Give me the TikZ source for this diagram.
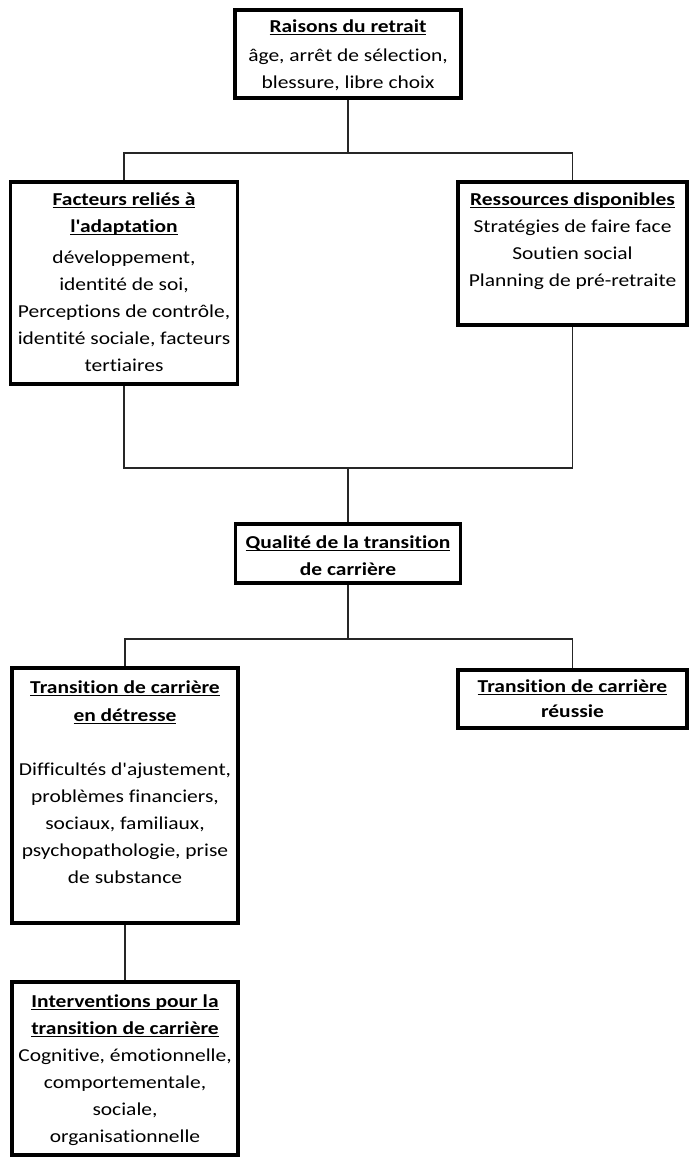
\documentclass[tikz,border=0pt]{standalone}
\usepackage{fontspec}
\setmainfont[Ligatures={TeXOff,NoCommon},FakeStretch=1.18]{Carlito}
\newsavebox{\myulbox}
\newcommand{\myul}[1]{\sbox{\myulbox}{#1}\rlap{\rule[-3.2pt]{\wd\myulbox}{1.4pt}}\usebox{\myulbox}}
\begin{document}
\begin{tikzpicture}[x=1pt,y=-1pt,
  box/.style={draw=black,line width=3.6pt,inner sep=0pt,rectangle},
  txt/.style={anchor=north,inner sep=0pt,align=center,
    font=\fontsize{18.2}{27}\selectfont,text=black},
  conn/.style={draw=black!85,line width=1.6pt}]
\useasboundingbox (0,0) rectangle (691,1158);
% boxes
\node[box,minimum width=226pt,minimum height=88pt] (raisons) at (348,54) {};
\node[box,minimum width=227pt,minimum height=202pt] (facteurs) at (124,283) {};
\node[box,minimum width=229pt,minimum height=143pt] (ressources) at (572.5,253.5) {};
\node[box,minimum width=225pt,minimum height=59pt] (qualite) at (348,553.5) {};
\node[box,minimum width=226pt,minimum height=255pt] (detresse) at (125,795.5) {};
\node[box,minimum width=229pt,minimum height=58pt] (reussie) at (572.5,699) {};
\node[box,minimum width=226pt,minimum height=173pt] (interventions) at (125,1068.5) {};
% texts
\node[txt] (t1) at ([yshift=-11pt]raisons.north) {\textbf{\myul{Raisons du retrait}}\\[2pt]âge, arrêt de sélection,\\blessure, libre choix};
\node[txt] (t2) at ([yshift=-12pt]facteurs.north) {\textbf{\myul{Facteurs reliés à}}\\\textbf{\myul{l'adaptation}}\\[4pt]développement,\\identité de soi,\\Perceptions de contrôle,\\identité sociale, facteurs\\tertiaires};
\node[txt] (t3) at ([yshift=-12pt]ressources.north) {\textbf{\myul{Ressources disponibles}}\\Stratégies de faire face\\Soutien social\\Planning de pré-retraite};
\node[txt] (t4) at ([yshift=-13pt]qualite.north) {\textbf{\myul{Qualité de la transition}}\\\textbf{de carrière}};
\node[txt] (t5) at ([yshift=-14pt]detresse.north) {\textbf{\myul{Transition de carrière}}\\[1pt]\textbf{\myul{en détresse}}\\[27pt]Difficultés d'ajustement,\\problèmes financiers,\\sociaux, familiaux,\\psychopathologie, prise\\de substance};
\node[txt] (t6) at ([yshift=-11pt]reussie.north) {\textbf{\myul{Transition de carrière}}\\[-2pt]\textbf{réussie}};
\node[txt] (t7) at ([yshift=-14pt]interventions.north) {\textbf{\myul{Interventions pour la}}\\\textbf{\myul{transition de carrière}}\\Cognitive, émotionnelle,\\comportementale,\\sociale,\\organisationnelle};
% junctions
\coordinate (j1) at (348,153);
\coordinate (j2) at (348,468);
\coordinate (j3) at (348,639);
% connectors
\draw[conn] (raisons.south) -- (j1);
\draw[conn] (facteurs.north) |- (j1) -| (ressources.north);
\draw[conn] (facteurs.south) |- (j2) -| (ressources.south);
\draw[conn] (j2) -- (qualite.north);
\draw[conn] (qualite.south) -- (j3);
\draw[conn] (detresse.north) |- (j3) -| (reussie.north);
\draw[conn] (detresse.south) -- (interventions.north);
\end{tikzpicture}
\end{document}
